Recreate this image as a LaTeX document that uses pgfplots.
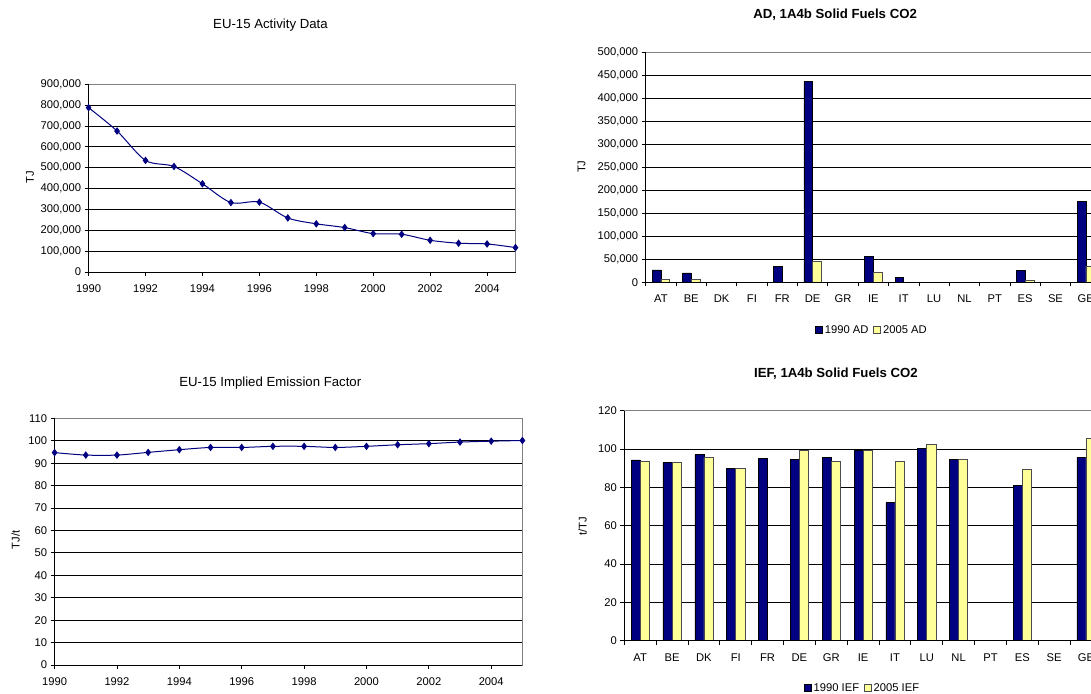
\documentclass[border=0pt]{standalone}
\usepackage{pgfplots}
\pgfplotsset{compat=1.18}
\usepackage{fontspec}
\setmainfont{Liberation Sans}
\definecolor{navy}{RGB}{0,0,128}
\definecolor{lyel}{RGB}{255,255,153}
\definecolor{bordergray}{RGB}{128,128,128}
\pgfplotsset{
  exstyle/.style={
    scale only axis,
    anchor=south west,
    clip=false,
    /pgf/number format/assume math mode=true,
    tick label style={font=\fontsize{11.2}{13}\selectfont, black},
    label style={font=\fontsize{11.2}{13}\selectfont},
    title style={font=\fontsize{13.2}{15}\selectfont},
    axis line style={draw=bordergray, line width=0.75pt},
    ymajorgrids,
    major grid style={black, line width=0.75pt},
    tick style={black, line width=0.75pt},
    tick align=outside,
    xtick pos=bottom, ytick pos=left,
    major tick length=4pt,
    scaled y ticks=false,
    yticklabel style={/pgf/number format/.cd, fixed, 1000 sep={,}},
  },
  barstyle/.style={
    ybar, bar width=0.2857,
    xmin=-0.5, xmax=14.5,
    xtick={-0.5,0.5,...,14.5}, xticklabels={},
    extra x ticks={0,1,...,14},
    extra x tick labels={AT,BE,DK,FI,FR,DE,GR,IE,IT,LU,NL,PT,ES,SE,GB},
    extra x tick style={major tick length=0pt, xticklabel style={yshift=-9pt, text height=8pt}},
    title style={font=\bfseries\fontsize{13.2}{15}\selectfont},
    legend style={anchor=center, draw=none, fill=none, legend columns=-1,
      font=\fontsize{11.2}{13}\selectfont,
      /tikz/every even column/.append style={column sep=3pt}},
    legend image code/.code={\draw[#1] (0pt,-3.5pt) rectangle (7pt,3.5pt);},
  },
}
\begin{document}
\begin{tikzpicture}
\useasboundingbox (0pt,0pt) rectangle (1091pt,693pt);
\clip (0pt,0pt) rectangle (1091pt,693pt);

% Panel A: EU-15 Activity Data
\begin{axis}[exstyle, at={(88.6pt,421pt)}, width=426.9pt, height=187.7pt,
  xmin=1990, xmax=2005, ymin=0, ymax=900000,
  xtick={1990,1992,...,2004}, ytick={0,100000,...,900000},
  xticklabel style={/pgf/number format/1000 sep={}, yshift=-5pt},
  title={EU-15 Activity Data}, title style={at={(axis description cs:0.426,1.281)}, anchor=center},
  ylabel={TJ}, ylabel style={at={(axis description cs:-0.137,0.506)}, anchor=center},
]
\addplot[navy, line width=1pt, smooth, tension=0.5, mark=diamond*, mark size=3pt] coordinates {
(1990,788000)(1991,676000)(1992,535000)(1993,506000)(1994,423000)(1995,333000)(1996,335000)(1997,259000)(1998,231000)(1999,213000)(2000,184000)(2001,181000)(2002,152000)(2003,138000)(2004,134500)(2005,117000)};
\draw[black, line width=0.75pt] (rel axis cs:0,1) -- (rel axis cs:0,0) -- (rel axis cs:1,0);
\end{axis}

% Panel C: EU-15 Implied Emission Factor
\begin{axis}[exstyle, at={(54.6pt,28pt)}, width=467.8pt, height=246.7pt,
  xmin=1990, xmax=2005, ymin=0, ymax=110,
  xtick={1990,1992,...,2004}, ytick={0,10,...,110},
  xticklabel style={/pgf/number format/1000 sep={}, yshift=-5pt},
  title={EU-15 Implied Emission Factor}, title style={at={(axis description cs:0.461,1.117)}, anchor=center},
  ylabel={TJ/t}, ylabel style={at={(axis description cs:-0.0834,0.507)}, anchor=center},
]
\addplot[navy, line width=1pt, smooth, tension=0.5, mark=diamond*, mark size=3pt] coordinates {
(1990,94.7)(1991,93.6)(1992,93.6)(1993,94.8)(1994,96.0)(1995,97.0)(1996,97.0)(1997,97.5)(1998,97.5)(1999,97.0)(2000,97.5)(2001,98.2)(2002,98.7)(2003,99.4)(2004,99.8)(2005,100.1)};
\draw[black, line width=0.75pt] (rel axis cs:0,1) -- (rel axis cs:0,0) -- (rel axis cs:1,0);
\end{axis}

% Panel B: AD, 1A4b Solid Fuels CO2
\begin{axis}[exstyle, barstyle, at={(645.7pt,410.7pt)}, width=455.3pt, height=230.3pt,
  ymin=0, ymax=500000, ytick={0,50000,...,500000},
  title={AD, 1A4b Solid Fuels CO2}, title style={at={(axis description cs:0.416,1.1376)}, anchor=center},
  ylabel={TJ}, ylabel style={at={(axis description cs:-0.1408,0.502)}, anchor=center},
  legend style={at={(axis description cs:0.497,-0.207)}},
]
\addplot[fill=navy, draw=black, line width=0.6pt, bar shift=-0.142857] coordinates {
(0,26800)(1,20300)(4,34700)(5,436300)(7,56400)(8,10100)(12,25400)(14,175400)};
\addplot[fill=lyel, draw=black!70, line width=0.6pt, bar shift=0.142857] coordinates {
(0,6500)(1,6000)(5,44900)(7,21700)(12,4300)(14,34800)};
\legend{1990 AD, 2005 AD}
\draw[black, line width=0.75pt] (rel axis cs:0,1) -- (rel axis cs:0,0) -- (rel axis cs:1,0);
\end{axis}

% Panel D: IEF, 1A4b Solid Fuels CO2
\begin{axis}[exstyle, barstyle, at={(624.3pt,52.3pt)}, width=477.6pt, height=230pt,
  ymin=0, ymax=120, ytick={0,20,...,120},
  title={IEF, 1A4b Solid Fuels CO2}, title style={at={(axis description cs:0.443,1.1335)}, anchor=center},
  ylabel={t/TJ}, ylabel style={at={(axis description cs:-0.0873,0.496)}, anchor=center},
  legend style={at={(axis description cs:0.499,-0.2057)}},
]
\addplot[fill=navy, draw=black, line width=0.6pt, bar shift=-0.142857] coordinates {
(0,94.3)(1,92.9)(2,97.0)(3,89.9)(4,95.1)(5,94.6)(6,95.7)(7,99.3)(8,72.2)(9,100.3)(10,94.6)(12,81.0)(14,95.7)};
\addplot[fill=lyel, draw=black!70, line width=0.6pt, bar shift=0.142857] coordinates {
(0,93.4)(1,92.9)(2,95.7)(3,89.9)(5,99.3)(6,93.4)(7,99.3)(8,93.4)(9,102.3)(10,94.6)(12,89.4)(14,105.6)};
\legend{1990 IEF, 2005 IEF}
\draw[black, line width=0.75pt] (rel axis cs:0,1) -- (rel axis cs:0,0) -- (rel axis cs:1,0);
\end{axis}
\end{tikzpicture}
\end{document}
